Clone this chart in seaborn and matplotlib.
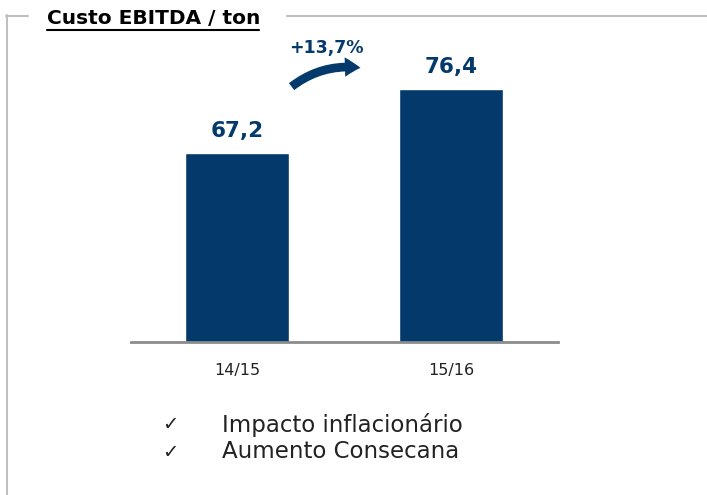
import matplotlib
matplotlib.use('Agg')
import matplotlib.pyplot as plt
import seaborn as sns
from matplotlib.lines import Line2D
from matplotlib.patches import FancyArrowPatch

# Data
safras = ['14/15', '15/16']
custo = [67.2, 76.4]
variacao = '+13,7%'
titulo = 'Custo EBITDA / ton'
bullets = ['Impacto inflacionário', 'Aumento Consecana']

navy = '#033a6b'

sns.set_style('white')
plt.rcParams['font.family'] = ['DejaVu Sans']

fig = plt.figure(figsize=(7.07, 4.95), dpi=100)
ax = fig.add_axes([131 / 707, 1 - 342 / 495, 427 / 707, 312.7 / 495])

sns.barplot(x=safras, y=custo, color=navy, width=0.486, saturation=1, ax=ax)
ax.set_ylim(40, 85)
ax.set_xlim(-0.495, 1.5)

# Value labels
for i, v in enumerate(custo):
    ax.text(i, v + 1.7, f'{v:.1f}'.replace('.', ','), ha='center', va='bottom',
            fontsize=15.5, fontweight='bold', color=navy)

# Growth arrow
arrow = FancyArrowPatch((0.245, 76.5), (0.59, 79.4), connectionstyle='arc3,rad=-0.22',
                        arrowstyle='simple,head_width=1.0,head_length=0.8,tail_width=0.45',
                        mutation_scale=14, color=navy, lw=0)
ax.add_patch(arrow)
ax.text(0.42, 82.3, variacao, ha='center', va='center', fontsize=12.5,
        fontweight='bold', color=navy)

# Axis styling
ax.set_xlabel('')
ax.set_ylabel('')
ax.set_yticks([])
for s in ['top', 'right', 'left']:
    ax.spines[s].set_visible(False)
ax.spines['bottom'].set_color('#8c8c8c')
ax.spines['bottom'].set_linewidth(2)
ax.tick_params(axis='x', length=0, pad=15, labelsize=11.5, labelcolor='#222222')

# Frame lines
fig.add_artist(Line2D([6 / 707, 28 / 707], [1 - 15.5 / 495] * 2, color='#c0c0c0', lw=1.5))
fig.add_artist(Line2D([287 / 707, 1], [1 - 15.5 / 495] * 2, color='#c0c0c0', lw=1.5))
fig.add_artist(Line2D([6.5 / 707, 6.5 / 707], [1 - 15 / 495, 0], color='#c0c0c0', lw=1.5))

# Title
fig.text(47 / 707, 1 - 18 / 495, titulo, ha='left', va='center', fontsize=14.5,
         fontweight='bold', color='black')
fig.add_artist(Line2D([47 / 707, 259 / 707], [1 - 29.5 / 495] * 2, color='black', lw=1.5))

# Bullets
for k, b in enumerate(bullets):
    y = 1 - (425 + 27 * k) / 495
    fig.text(162 / 707, y, '\u2713', ha='left', va='center', fontsize=14, color='#222222')
    fig.text(222 / 707, y, b, ha='left', va='center', fontsize=16.5, color='#222222')

fig.savefig('out.png', dpi=100)
